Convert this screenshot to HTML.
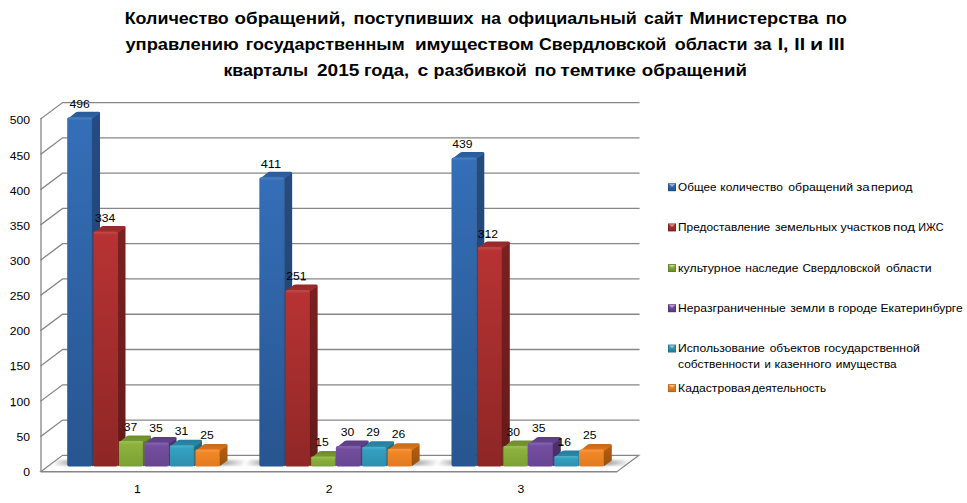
<!DOCTYPE html>
<html lang="ru"><head><meta charset="utf-8"><title>Chart</title>
<style>html,body{margin:0;padding:0;background:#fff;}body{width:967px;height:503px;overflow:hidden;font-family:"Liberation Sans",sans-serif;}svg{display:block;}text{font-family:"Liberation Sans",sans-serif;fill:#000;}.t{font-weight:bold;font-size:17.3px;}.ax{font-size:10.7px;}.dl{font-size:10.7px;}.lg{font-size:11.8px;}</style></head><body>
<svg width="967" height="503" viewBox="0 0 967 503">
<defs>
<linearGradient id="fb" x1="0" y1="0" x2="0" y2="1"><stop offset="0" stop-color="#356fb8"/><stop offset="1" stop-color="#27558f"/></linearGradient>
<linearGradient id="sb" x1="0" y1="0" x2="0" y2="1"><stop offset="0" stop-color="#254b80"/><stop offset="1" stop-color="#1f416f"/></linearGradient>
<linearGradient id="tb" x1="0" y1="0" x2="0" y2="1"><stop offset="0" stop-color="#2a5a98"/><stop offset="1" stop-color="#2f64a8"/></linearGradient>
<linearGradient id="mb" x1="0" y1="0" x2="1" y2="1"><stop offset="0" stop-color="#4a82c8"/><stop offset="1" stop-color="#27558f"/></linearGradient>
<linearGradient id="fr" x1="0" y1="0" x2="0" y2="1"><stop offset="0" stop-color="#b83333"/><stop offset="1" stop-color="#8e2626"/></linearGradient>
<linearGradient id="sr" x1="0" y1="0" x2="0" y2="1"><stop offset="0" stop-color="#7a2020"/><stop offset="1" stop-color="#651a1a"/></linearGradient>
<linearGradient id="tr" x1="0" y1="0" x2="0" y2="1"><stop offset="0" stop-color="#962828"/><stop offset="1" stop-color="#a52c2c"/></linearGradient>
<linearGradient id="mr" x1="0" y1="0" x2="1" y2="1"><stop offset="0" stop-color="#cc4a4a"/><stop offset="1" stop-color="#8e2626"/></linearGradient>
<linearGradient id="fg" x1="0" y1="0" x2="0" y2="1"><stop offset="0" stop-color="#8fb53f"/><stop offset="1" stop-color="#6e8f2c"/></linearGradient>
<linearGradient id="sg" x1="0" y1="0" x2="0" y2="1"><stop offset="0" stop-color="#5f7c26"/><stop offset="1" stop-color="#4f6820"/></linearGradient>
<linearGradient id="tg" x1="0" y1="0" x2="0" y2="1"><stop offset="0" stop-color="#6d8c2d"/><stop offset="1" stop-color="#7a9c33"/></linearGradient>
<linearGradient id="mg" x1="0" y1="0" x2="1" y2="1"><stop offset="0" stop-color="#a6c85a"/><stop offset="1" stop-color="#6e8f2c"/></linearGradient>
<linearGradient id="fp" x1="0" y1="0" x2="0" y2="1"><stop offset="0" stop-color="#7650a3"/><stop offset="1" stop-color="#5b3c80"/></linearGradient>
<linearGradient id="sp" x1="0" y1="0" x2="0" y2="1"><stop offset="0" stop-color="#4e3370"/><stop offset="1" stop-color="#422b5f"/></linearGradient>
<linearGradient id="tp" x1="0" y1="0" x2="0" y2="1"><stop offset="0" stop-color="#5b3d82"/><stop offset="1" stop-color="#664590"/></linearGradient>
<linearGradient id="mp" x1="0" y1="0" x2="1" y2="1"><stop offset="0" stop-color="#8c68b8"/><stop offset="1" stop-color="#5b3c80"/></linearGradient>
<linearGradient id="fa" x1="0" y1="0" x2="0" y2="1"><stop offset="0" stop-color="#36a3c4"/><stop offset="1" stop-color="#267f9b"/></linearGradient>
<linearGradient id="sa" x1="0" y1="0" x2="0" y2="1"><stop offset="0" stop-color="#216f88"/><stop offset="1" stop-color="#1b5d73"/></linearGradient>
<linearGradient id="ta" x1="0" y1="0" x2="0" y2="1"><stop offset="0" stop-color="#257d99"/><stop offset="1" stop-color="#2a8cab"/></linearGradient>
<linearGradient id="ma" x1="0" y1="0" x2="1" y2="1"><stop offset="0" stop-color="#55b9d6"/><stop offset="1" stop-color="#267f9b"/></linearGradient>
<linearGradient id="fo" x1="0" y1="0" x2="0" y2="1"><stop offset="0" stop-color="#f58a28"/><stop offset="1" stop-color="#d06f17"/></linearGradient>
<linearGradient id="so" x1="0" y1="0" x2="0" y2="1"><stop offset="0" stop-color="#b55f12"/><stop offset="1" stop-color="#9a510f"/></linearGradient>
<linearGradient id="to" x1="0" y1="0" x2="0" y2="1"><stop offset="0" stop-color="#c96b18"/><stop offset="1" stop-color="#dd771c"/></linearGradient>
<linearGradient id="mo" x1="0" y1="0" x2="1" y2="1"><stop offset="0" stop-color="#ffa24a"/><stop offset="1" stop-color="#d06f17"/></linearGradient>
<linearGradient id="shl" x1="1" y1="0" x2="0" y2="0"><stop offset="0" stop-color="#000" stop-opacity="0.4"/><stop offset="1" stop-color="#000" stop-opacity="0"/></linearGradient>
<linearGradient id="shr" x1="0" y1="0" x2="1" y2="0"><stop offset="0" stop-color="#000" stop-opacity="0.4"/><stop offset="1" stop-color="#000" stop-opacity="0"/></linearGradient>
<linearGradient id="hi" x1="0" y1="0" x2="0" y2="1"><stop offset="0" stop-color="#fff" stop-opacity="0.13"/><stop offset="1" stop-color="#fff" stop-opacity="0"/></linearGradient>
<filter id="blur" x="-20%" y="-100%" width="140%" height="300%"><feGaussianBlur stdDeviation="0.9"/></filter>
</defs>
<rect x="0" y="0" width="967" height="503" fill="#ffffff"/>
<g fill="none" stroke="#868686" stroke-width="1.3" stroke-linecap="square">
<path d="M41.00 436.22 L62.60 420.07 L638.90 420.07"/>
<path d="M41.00 400.94 L62.60 384.79 L638.90 384.79"/>
<path d="M41.00 365.66 L62.60 349.51 L638.90 349.51"/>
<path d="M41.00 330.38 L62.60 314.23 L638.90 314.23"/>
<path d="M41.00 295.10 L62.60 278.95 L638.90 278.95"/>
<path d="M41.00 259.82 L62.60 243.67 L638.90 243.67"/>
<path d="M41.00 224.54 L62.60 208.39 L638.90 208.39"/>
<path d="M41.00 189.26 L62.60 173.11 L638.90 173.11"/>
<path d="M41.00 153.98 L62.60 137.83 L638.90 137.83"/>
<path d="M41.00 118.70 L62.60 102.55 L638.90 102.55"/>
<path d="M41.00 118.70 L41.00 471.50"/>
</g>
<path d="M41.00 471.50 L62.60 455.35 L638.90 455.35 L617.30 471.50 Z" fill="#ffffff" stroke="#868686" stroke-width="1.2" stroke-linejoin="miter"/>
<path d="M41.00 471.70 L617.30 471.70" stroke="#868686" stroke-width="1.6" fill="none"/>
<path d="M51.50 465.60 L69.50 465.60 L75.50 460.10 L57.50 460.10 Z" fill="url(#shl)" filter="url(#blur)"/>
<path d="M219.50 465.60 L241.50 465.60 L247.50 460.10 L225.50 460.10 Z" fill="url(#shr)" filter="url(#blur)"/>
<path d="M243.65 465.60 L261.65 465.60 L267.65 460.10 L249.65 460.10 Z" fill="url(#shl)" filter="url(#blur)"/>
<path d="M411.65 465.60 L433.65 465.60 L439.65 460.10 L417.65 460.10 Z" fill="url(#shr)" filter="url(#blur)"/>
<path d="M435.80 465.60 L453.80 465.60 L459.80 460.10 L441.80 460.10 Z" fill="url(#shl)" filter="url(#blur)"/>
<path d="M603.80 465.60 L625.80 465.60 L631.80 460.10 L609.80 460.10 Z" fill="url(#shr)" filter="url(#blur)"/>
<path d="M92.00 118.02 L100.00 112.52 L100.00 460.60 L92.00 466.60 Z" fill="url(#sb)"/>
<path d="M67.30 119.12 L76.00 112.22 Q76.70 111.72 78.10 111.72 L98.50 111.72 Q100.00 111.72 100.00 112.92 L92.50 118.62 Z" fill="url(#tb)"/>
<rect x="67.20" y="117.22" width="25.10" height="349.38" rx="2" ry="2" fill="url(#fb)"/>
<rect x="68.30" y="117.42" width="23.50" height="3.2" rx="1.5" ry="1.5" fill="url(#hi)"/>
<rect x="91.70" y="118.82" width="0.8" height="346.38" fill="#000" opacity="0.16"/>
<path d="M117.50 232.33 L125.50 226.83 L125.50 460.60 L117.50 466.60 Z" fill="url(#sr)"/>
<path d="M92.80 233.43 L101.50 226.53 Q102.20 226.03 103.60 226.03 L124.00 226.03 Q125.50 226.03 125.50 227.23 L118.00 232.93 Z" fill="url(#tr)"/>
<rect x="92.70" y="231.53" width="25.10" height="235.07" rx="2" ry="2" fill="url(#fr)"/>
<rect x="93.80" y="231.73" width="23.50" height="3.2" rx="1.5" ry="1.5" fill="url(#hi)"/>
<rect x="117.20" y="233.13" width="0.8" height="232.07" fill="#000" opacity="0.16"/>
<rect x="92.60" y="229.53" width="0.9" height="236.07" fill="#254b80"/>
<path d="M143.00 441.89 L151.00 436.39 L151.00 460.60 L143.00 466.60 Z" fill="url(#sg)"/>
<path d="M118.30 442.99 L127.00 436.09 Q127.70 435.59 129.10 435.59 L149.50 435.59 Q151.00 435.59 151.00 436.79 L143.50 442.49 Z" fill="url(#tg)"/>
<linearGradient id="fg0" x1="0" y1="0" x2="0" y2="1"><stop offset="0" stop-color="#8fb53f"/><stop offset="1" stop-color="#7ca034"/></linearGradient>
<rect x="118.20" y="441.09" width="25.10" height="25.51" rx="2" ry="2" fill="url(#fg0)"/>
<rect x="119.30" y="441.29" width="23.50" height="3.2" rx="1.5" ry="1.5" fill="url(#hi)"/>
<rect x="142.70" y="442.69" width="0.8" height="22.51" fill="#000" opacity="0.16"/>
<rect x="118.10" y="439.09" width="0.9" height="26.51" fill="#7a2020"/>
<path d="M168.50 443.30 L176.50 437.80 L176.50 460.60 L168.50 466.60 Z" fill="url(#sp)"/>
<path d="M143.80 444.40 L152.50 437.50 Q153.20 437.00 154.60 437.00 L175.00 437.00 Q176.50 437.00 176.50 438.20 L169.00 443.90 Z" fill="url(#tp)"/>
<linearGradient id="fp0" x1="0" y1="0" x2="0" y2="1"><stop offset="0" stop-color="#7650a3"/><stop offset="1" stop-color="#67458f"/></linearGradient>
<rect x="143.70" y="442.50" width="25.10" height="24.10" rx="2" ry="2" fill="url(#fp0)"/>
<rect x="144.80" y="442.70" width="23.50" height="3.2" rx="1.5" ry="1.5" fill="url(#hi)"/>
<rect x="168.20" y="444.10" width="0.8" height="21.10" fill="#000" opacity="0.16"/>
<rect x="143.60" y="440.50" width="0.9" height="25.10" fill="#5f7c26"/>
<path d="M194.00 446.13 L202.00 440.63 L202.00 460.60 L194.00 466.60 Z" fill="url(#sa)"/>
<path d="M169.30 447.23 L178.00 440.33 Q178.70 439.83 180.10 439.83 L200.50 439.83 Q202.00 439.83 202.00 441.03 L194.50 446.73 Z" fill="url(#ta)"/>
<linearGradient id="fa0" x1="0" y1="0" x2="0" y2="1"><stop offset="0" stop-color="#36a3c4"/><stop offset="1" stop-color="#2d8fad"/></linearGradient>
<rect x="169.20" y="445.33" width="25.10" height="21.27" rx="2" ry="2" fill="url(#fa0)"/>
<rect x="170.30" y="445.53" width="23.50" height="3.2" rx="1.5" ry="1.5" fill="url(#hi)"/>
<rect x="193.70" y="446.93" width="0.8" height="18.27" fill="#000" opacity="0.16"/>
<rect x="169.10" y="443.33" width="0.9" height="22.27" fill="#4e3370"/>
<path d="M219.50 450.36 L227.50 444.86 L227.50 460.60 L219.50 466.60 Z" fill="url(#so)"/>
<path d="M194.80 451.46 L203.50 444.56 Q204.20 444.06 205.60 444.06 L226.00 444.06 Q227.50 444.06 227.50 445.26 L220.00 450.96 Z" fill="url(#to)"/>
<linearGradient id="fo0" x1="0" y1="0" x2="0" y2="1"><stop offset="0" stop-color="#f58a28"/><stop offset="1" stop-color="#e17b1f"/></linearGradient>
<rect x="194.70" y="449.56" width="25.10" height="17.04" rx="2" ry="2" fill="url(#fo0)"/>
<rect x="195.80" y="449.76" width="23.50" height="3.2" rx="1.5" ry="1.5" fill="url(#hi)"/>
<rect x="219.20" y="451.16" width="0.8" height="14.04" fill="#000" opacity="0.16"/>
<rect x="194.60" y="447.56" width="0.9" height="18.04" fill="#216f88"/>
<path d="M284.15 178.00 L292.15 172.50 L292.15 460.60 L284.15 466.60 Z" fill="url(#sb)"/>
<path d="M259.45 179.10 L268.15 172.20 Q268.85 171.70 270.25 171.70 L290.65 171.70 Q292.15 171.70 292.15 172.90 L284.65 178.60 Z" fill="url(#tb)"/>
<rect x="259.35" y="177.20" width="25.10" height="289.40" rx="2" ry="2" fill="url(#fb)"/>
<rect x="260.45" y="177.40" width="23.50" height="3.2" rx="1.5" ry="1.5" fill="url(#hi)"/>
<rect x="283.85" y="178.80" width="0.8" height="286.40" fill="#000" opacity="0.16"/>
<path d="M309.65 290.89 L317.65 285.39 L317.65 460.60 L309.65 466.60 Z" fill="url(#sr)"/>
<path d="M284.95 291.99 L293.65 285.09 Q294.35 284.59 295.75 284.59 L316.15 284.59 Q317.65 284.59 317.65 285.79 L310.15 291.49 Z" fill="url(#tr)"/>
<linearGradient id="fr1" x1="0" y1="0" x2="0" y2="1"><stop offset="0" stop-color="#b83333"/><stop offset="1" stop-color="#902727"/></linearGradient>
<rect x="284.85" y="290.09" width="25.10" height="176.51" rx="2" ry="2" fill="url(#fr1)"/>
<rect x="285.95" y="290.29" width="23.50" height="3.2" rx="1.5" ry="1.5" fill="url(#hi)"/>
<rect x="309.35" y="291.69" width="0.8" height="173.51" fill="#000" opacity="0.16"/>
<rect x="284.75" y="288.09" width="0.9" height="177.51" fill="#254b80"/>
<path d="M335.15 457.42 L343.15 451.92 L343.15 460.60 L335.15 466.60 Z" fill="url(#sg)"/>
<path d="M310.45 458.52 L319.15 451.62 Q319.85 451.12 321.25 451.12 L341.65 451.12 Q343.15 451.12 343.15 452.32 L335.65 458.02 Z" fill="url(#tg)"/>
<linearGradient id="fg1" x1="0" y1="0" x2="0" y2="1"><stop offset="0" stop-color="#8fb53f"/><stop offset="1" stop-color="#7ea135"/></linearGradient>
<rect x="310.35" y="456.62" width="25.10" height="9.98" rx="2" ry="2" fill="url(#fg1)"/>
<rect x="311.45" y="456.82" width="23.50" height="3.2" rx="1.5" ry="1.5" fill="url(#hi)"/>
<rect x="334.85" y="458.22" width="0.8" height="6.98" fill="#000" opacity="0.16"/>
<rect x="310.25" y="454.62" width="0.9" height="10.98" fill="#7a2020"/>
<path d="M360.65 446.83 L368.65 441.33 L368.65 460.60 L360.65 466.60 Z" fill="url(#sp)"/>
<path d="M335.95 447.93 L344.65 441.03 Q345.35 440.53 346.75 440.53 L367.15 440.53 Q368.65 440.53 368.65 441.73 L361.15 447.43 Z" fill="url(#tp)"/>
<linearGradient id="fp1" x1="0" y1="0" x2="0" y2="1"><stop offset="0" stop-color="#7650a3"/><stop offset="1" stop-color="#674590"/></linearGradient>
<rect x="335.85" y="446.03" width="25.10" height="20.57" rx="2" ry="2" fill="url(#fp1)"/>
<rect x="336.95" y="446.23" width="23.50" height="3.2" rx="1.5" ry="1.5" fill="url(#hi)"/>
<rect x="360.35" y="447.63" width="0.8" height="17.57" fill="#000" opacity="0.16"/>
<path d="M386.15 447.54 L394.15 442.04 L394.15 460.60 L386.15 466.60 Z" fill="url(#sa)"/>
<path d="M361.45 448.64 L370.15 441.74 Q370.85 441.24 372.25 441.24 L392.65 441.24 Q394.15 441.24 394.15 442.44 L386.65 448.14 Z" fill="url(#ta)"/>
<linearGradient id="fa1" x1="0" y1="0" x2="0" y2="1"><stop offset="0" stop-color="#36a3c4"/><stop offset="1" stop-color="#2d8fad"/></linearGradient>
<rect x="361.35" y="446.74" width="25.10" height="19.86" rx="2" ry="2" fill="url(#fa1)"/>
<rect x="362.45" y="446.94" width="23.50" height="3.2" rx="1.5" ry="1.5" fill="url(#hi)"/>
<rect x="385.85" y="448.34" width="0.8" height="16.86" fill="#000" opacity="0.16"/>
<rect x="361.25" y="444.74" width="0.9" height="20.86" fill="#4e3370"/>
<path d="M411.65 449.65 L419.65 444.15 L419.65 460.60 L411.65 466.60 Z" fill="url(#so)"/>
<path d="M386.95 450.75 L395.65 443.85 Q396.35 443.35 397.75 443.35 L418.15 443.35 Q419.65 443.35 419.65 444.55 L412.15 450.25 Z" fill="url(#to)"/>
<linearGradient id="fo1" x1="0" y1="0" x2="0" y2="1"><stop offset="0" stop-color="#f58a28"/><stop offset="1" stop-color="#e17b1f"/></linearGradient>
<rect x="386.85" y="448.85" width="25.10" height="17.75" rx="2" ry="2" fill="url(#fo1)"/>
<rect x="387.95" y="449.05" width="23.50" height="3.2" rx="1.5" ry="1.5" fill="url(#hi)"/>
<rect x="411.35" y="450.45" width="0.8" height="14.75" fill="#000" opacity="0.16"/>
<rect x="386.75" y="446.85" width="0.9" height="18.75" fill="#216f88"/>
<path d="M476.30 158.24 L484.30 152.74 L484.30 460.60 L476.30 466.60 Z" fill="url(#sb)"/>
<path d="M451.60 159.34 L460.30 152.44 Q461.00 151.94 462.40 151.94 L482.80 151.94 Q484.30 151.94 484.30 153.14 L476.80 158.84 Z" fill="url(#tb)"/>
<rect x="451.50" y="157.44" width="25.10" height="309.16" rx="2" ry="2" fill="url(#fb)"/>
<rect x="452.60" y="157.64" width="23.50" height="3.2" rx="1.5" ry="1.5" fill="url(#hi)"/>
<rect x="476.00" y="159.04" width="0.8" height="306.16" fill="#000" opacity="0.16"/>
<path d="M501.80 247.85 L509.80 242.35 L509.80 460.60 L501.80 466.60 Z" fill="url(#sr)"/>
<path d="M477.10 248.95 L485.80 242.05 Q486.50 241.55 487.90 241.55 L508.30 241.55 Q509.80 241.55 509.80 242.75 L502.30 248.45 Z" fill="url(#tr)"/>
<rect x="477.00" y="247.05" width="25.10" height="219.55" rx="2" ry="2" fill="url(#fr)"/>
<rect x="478.10" y="247.25" width="23.50" height="3.2" rx="1.5" ry="1.5" fill="url(#hi)"/>
<rect x="501.50" y="248.65" width="0.8" height="216.55" fill="#000" opacity="0.16"/>
<rect x="476.90" y="245.05" width="0.9" height="220.55" fill="#254b80"/>
<path d="M527.30 446.83 L535.30 441.33 L535.30 460.60 L527.30 466.60 Z" fill="url(#sg)"/>
<path d="M502.60 447.93 L511.30 441.03 Q512.00 440.53 513.40 440.53 L533.80 440.53 Q535.30 440.53 535.30 441.73 L527.80 447.43 Z" fill="url(#tg)"/>
<linearGradient id="fg2" x1="0" y1="0" x2="0" y2="1"><stop offset="0" stop-color="#8fb53f"/><stop offset="1" stop-color="#7da035"/></linearGradient>
<rect x="502.50" y="446.03" width="25.10" height="20.57" rx="2" ry="2" fill="url(#fg2)"/>
<rect x="503.60" y="446.23" width="23.50" height="3.2" rx="1.5" ry="1.5" fill="url(#hi)"/>
<rect x="527.00" y="447.63" width="0.8" height="17.57" fill="#000" opacity="0.16"/>
<rect x="502.40" y="444.03" width="0.9" height="21.57" fill="#7a2020"/>
<path d="M552.80 443.30 L560.80 437.80 L560.80 460.60 L552.80 466.60 Z" fill="url(#sp)"/>
<path d="M528.10 444.40 L536.80 437.50 Q537.50 437.00 538.90 437.00 L559.30 437.00 Q560.80 437.00 560.80 438.20 L553.30 443.90 Z" fill="url(#tp)"/>
<linearGradient id="fp2" x1="0" y1="0" x2="0" y2="1"><stop offset="0" stop-color="#7650a3"/><stop offset="1" stop-color="#67458f"/></linearGradient>
<rect x="528.00" y="442.50" width="25.10" height="24.10" rx="2" ry="2" fill="url(#fp2)"/>
<rect x="529.10" y="442.70" width="23.50" height="3.2" rx="1.5" ry="1.5" fill="url(#hi)"/>
<rect x="552.50" y="444.10" width="0.8" height="21.10" fill="#000" opacity="0.16"/>
<path d="M578.30 456.71 L586.30 451.21 L586.30 460.60 L578.30 466.60 Z" fill="url(#sa)"/>
<path d="M553.60 457.81 L562.30 450.91 Q563.00 450.41 564.40 450.41 L584.80 450.41 Q586.30 450.41 586.30 451.61 L578.80 457.31 Z" fill="url(#ta)"/>
<linearGradient id="fa2" x1="0" y1="0" x2="0" y2="1"><stop offset="0" stop-color="#36a3c4"/><stop offset="1" stop-color="#2e90ae"/></linearGradient>
<rect x="553.50" y="455.91" width="25.10" height="10.69" rx="2" ry="2" fill="url(#fa2)"/>
<rect x="554.60" y="456.11" width="23.50" height="3.2" rx="1.5" ry="1.5" fill="url(#hi)"/>
<rect x="578.00" y="457.51" width="0.8" height="7.69" fill="#000" opacity="0.16"/>
<rect x="553.40" y="453.91" width="0.9" height="11.69" fill="#4e3370"/>
<path d="M603.80 450.36 L611.80 444.86 L611.80 460.60 L603.80 466.60 Z" fill="url(#so)"/>
<path d="M579.10 451.46 L587.80 444.56 Q588.50 444.06 589.90 444.06 L610.30 444.06 Q611.80 444.06 611.80 445.26 L604.30 450.96 Z" fill="url(#to)"/>
<linearGradient id="fo2" x1="0" y1="0" x2="0" y2="1"><stop offset="0" stop-color="#f58a28"/><stop offset="1" stop-color="#e17b1f"/></linearGradient>
<rect x="579.00" y="449.56" width="25.10" height="17.04" rx="2" ry="2" fill="url(#fo2)"/>
<rect x="580.10" y="449.76" width="23.50" height="3.2" rx="1.5" ry="1.5" fill="url(#hi)"/>
<rect x="603.50" y="451.16" width="0.8" height="14.04" fill="#000" opacity="0.16"/>
<text class="dl" x="69.4" y="108.4" textLength="20.3" lengthAdjust="spacingAndGlyphs">496</text>
<text class="dl" x="94.9" y="222.1" textLength="20.3" lengthAdjust="spacingAndGlyphs">334</text>
<text class="dl" x="123.7" y="430.7" textLength="13.5" lengthAdjust="spacingAndGlyphs">37</text>
<text class="dl" x="149.2" y="432.1" textLength="13.5" lengthAdjust="spacingAndGlyphs">35</text>
<text class="dl" x="174.7" y="434.9" textLength="13.5" lengthAdjust="spacingAndGlyphs">31</text>
<rect x="182.75" y="433.98" width="4.7" height="0.95" fill="#000"/>
<text class="dl" x="200.2" y="439.1" textLength="13.5" lengthAdjust="spacingAndGlyphs">25</text>
<text class="dl" x="260.8" y="168.1" textLength="20.3" lengthAdjust="spacingAndGlyphs">411</text>
<rect x="268.82" y="167.10" width="4.7" height="0.95" fill="#000"/>
<rect x="275.58" y="167.10" width="4.7" height="0.95" fill="#000"/>
<text class="dl" x="286.3" y="280.4" textLength="20.3" lengthAdjust="spacingAndGlyphs">251</text>
<rect x="301.08" y="279.47" width="4.7" height="0.95" fill="#000"/>
<text class="dl" x="315.2" y="446.2" textLength="13.5" lengthAdjust="spacingAndGlyphs">15</text>
<rect x="316.44" y="445.22" width="4.7" height="0.95" fill="#000"/>
<text class="dl" x="340.7" y="435.6" textLength="13.5" lengthAdjust="spacingAndGlyphs">30</text>
<text class="dl" x="366.2" y="436.3" textLength="13.5" lengthAdjust="spacingAndGlyphs">29</text>
<text class="dl" x="391.7" y="438.4" textLength="13.5" lengthAdjust="spacingAndGlyphs">26</text>
<text class="dl" x="452.3" y="148.4" textLength="20.3" lengthAdjust="spacingAndGlyphs">439</text>
<text class="dl" x="477.8" y="237.6" textLength="20.3" lengthAdjust="spacingAndGlyphs">312</text>
<rect x="485.77" y="236.63" width="4.7" height="0.95" fill="#000"/>
<text class="dl" x="506.6" y="435.6" textLength="13.5" lengthAdjust="spacingAndGlyphs">30</text>
<text class="dl" x="532.1" y="432.1" textLength="13.5" lengthAdjust="spacingAndGlyphs">35</text>
<text class="dl" x="557.6" y="445.5" textLength="13.5" lengthAdjust="spacingAndGlyphs">16</text>
<rect x="558.89" y="444.51" width="4.7" height="0.95" fill="#000"/>
<text class="dl" x="583.1" y="439.1" textLength="13.5" lengthAdjust="spacingAndGlyphs">25</text>
<text class="ax" x="23.2" y="476.3" textLength="6.8" lengthAdjust="spacingAndGlyphs">0</text>
<text class="ax" x="16.5" y="441.3" textLength="13.5" lengthAdjust="spacingAndGlyphs">50</text>
<text class="ax" x="9.7" y="406.3" textLength="20.3" lengthAdjust="spacingAndGlyphs">100</text>
<rect x="10.97" y="405.35" width="4.7" height="0.95" fill="#000"/>
<text class="ax" x="9.7" y="370.3" textLength="20.3" lengthAdjust="spacingAndGlyphs">150</text>
<rect x="10.97" y="369.35" width="4.7" height="0.95" fill="#000"/>
<text class="ax" x="9.7" y="335.3" textLength="20.3" lengthAdjust="spacingAndGlyphs">200</text>
<text class="ax" x="9.7" y="300.3" textLength="20.3" lengthAdjust="spacingAndGlyphs">250</text>
<text class="ax" x="9.7" y="265.3" textLength="20.3" lengthAdjust="spacingAndGlyphs">300</text>
<text class="ax" x="9.7" y="230.3" textLength="20.3" lengthAdjust="spacingAndGlyphs">350</text>
<text class="ax" x="9.7" y="195.3" textLength="20.3" lengthAdjust="spacingAndGlyphs">400</text>
<text class="ax" x="9.7" y="160.3" textLength="20.3" lengthAdjust="spacingAndGlyphs">450</text>
<text class="ax" x="9.7" y="124.3" textLength="20.3" lengthAdjust="spacingAndGlyphs">500</text>
<text class="ax" x="134.0" y="493.1" textLength="6.8" lengthAdjust="spacingAndGlyphs">1</text>
<rect x="135.25" y="492.15" width="4.7" height="0.95" fill="#000"/>
<text class="ax" x="325.7" y="493.1" textLength="6.8" lengthAdjust="spacingAndGlyphs">2</text>
<text class="ax" x="517.4" y="493.1" textLength="6.8" lengthAdjust="spacingAndGlyphs">3</text>
<text class="t" x="124.7" y="23.8" textLength="104.1" lengthAdjust="spacingAndGlyphs">Количество</text>
<text class="t" x="234.6" y="23.8" textLength="110.8" lengthAdjust="spacingAndGlyphs">обращений,</text>
<text class="t" x="353.6" y="23.8" textLength="120.0" lengthAdjust="spacingAndGlyphs">поступивших</text>
<text class="t" x="480.7" y="23.8" textLength="20.2" lengthAdjust="spacingAndGlyphs">на</text>
<text class="t" x="507.7" y="23.8" textLength="129.1" lengthAdjust="spacingAndGlyphs">официальный</text>
<text class="t" x="643.9" y="23.8" textLength="39.4" lengthAdjust="spacingAndGlyphs">сайт</text>
<text class="t" x="689.4" y="23.8" textLength="128.9" lengthAdjust="spacingAndGlyphs">Министерства</text>
<text class="t" x="825.8" y="23.8" textLength="21.0" lengthAdjust="spacingAndGlyphs">по</text>
<text class="t" x="125.4" y="49.5" textLength="113.3" lengthAdjust="spacingAndGlyphs">управлению</text>
<text class="t" x="245.8" y="49.5" textLength="159.0" lengthAdjust="spacingAndGlyphs">государственным</text>
<text class="t" x="414.9" y="49.5" textLength="118.9" lengthAdjust="spacingAndGlyphs">имуществом</text>
<text class="t" x="539.0" y="49.5" textLength="127.5" lengthAdjust="spacingAndGlyphs">Свердловской</text>
<text class="t" x="674.8" y="49.5" textLength="72.7" lengthAdjust="spacingAndGlyphs">области</text>
<text class="t" x="753.4" y="49.5" textLength="18.2" lengthAdjust="spacingAndGlyphs">за</text>
<text class="t" x="777.7" y="49.5" textLength="10.8" lengthAdjust="spacingAndGlyphs">I,</text>
<text class="t" x="794.3" y="49.5" textLength="10.8" lengthAdjust="spacingAndGlyphs">II</text>
<text class="t" x="810.0" y="49.5" textLength="13.2" lengthAdjust="spacingAndGlyphs">и</text>
<text class="t" x="828.3" y="49.5" textLength="16.5" lengthAdjust="spacingAndGlyphs">III</text>
<text class="t" x="223.4" y="75.9" textLength="84.8" lengthAdjust="spacingAndGlyphs">кварталы</text>
<text class="t" x="317.0" y="75.9" textLength="42.4" lengthAdjust="spacingAndGlyphs">2015</text>
<text class="t" x="364.0" y="75.9" textLength="45.1" lengthAdjust="spacingAndGlyphs">года,</text>
<text class="t" x="417.4" y="75.9" textLength="10.8" lengthAdjust="spacingAndGlyphs">с</text>
<text class="t" x="433.5" y="75.9" textLength="93.2" lengthAdjust="spacingAndGlyphs">разбивкой</text>
<text class="t" x="534.4" y="75.9" textLength="21.8" lengthAdjust="spacingAndGlyphs">по</text>
<text class="t" x="560.2" y="75.9" textLength="75.9" lengthAdjust="spacingAndGlyphs">темтике</text>
<text class="t" x="641.8" y="75.9" textLength="105.2" lengthAdjust="spacingAndGlyphs">обращений</text>
<rect x="668.0" y="183.3" width="8.0" height="7.9" fill="#254b80"/>
<rect x="668.7" y="184.0" width="6.6" height="6.3" fill="url(#fb)"/>
<path d="M669.00 184.10 L675.00 184.10 L672.00 186.90 Z" fill="#ffffff" opacity="0.45"/>
<text class="lg" x="678.1" y="190.9" textLength="38.4" lengthAdjust="spacingAndGlyphs">Общее</text>
<text class="lg" x="720.3" y="190.9" textLength="62.5" lengthAdjust="spacingAndGlyphs">количество</text>
<text class="lg" x="788.3" y="190.9" textLength="64.7" lengthAdjust="spacingAndGlyphs">обращений</text>
<text class="lg" x="856.3" y="190.9" textLength="13.4" lengthAdjust="spacingAndGlyphs">за</text>
<text class="lg" x="871.1" y="190.9" textLength="41.5" lengthAdjust="spacingAndGlyphs">период</text>
<rect x="668.0" y="223.5" width="8.0" height="7.9" fill="#7a2020"/>
<rect x="668.7" y="224.2" width="6.6" height="6.3" fill="url(#fr)"/>
<path d="M669.00 224.30 L675.00 224.30 L672.00 227.10 Z" fill="#ffffff" opacity="0.45"/>
<text class="lg" x="678.1" y="231.1" textLength="92.1" lengthAdjust="spacingAndGlyphs">Предоставление</text>
<text class="lg" x="775.1" y="231.1" textLength="61.9" lengthAdjust="spacingAndGlyphs">земельных</text>
<text class="lg" x="840.5" y="231.1" textLength="50.2" lengthAdjust="spacingAndGlyphs">участков</text>
<text class="lg" x="893.0" y="231.1" textLength="22.0" lengthAdjust="spacingAndGlyphs">под</text>
<text class="lg" x="918.3" y="231.1" textLength="25.3" lengthAdjust="spacingAndGlyphs">ИЖС</text>
<rect x="668.0" y="264.1" width="8.0" height="7.9" fill="#5f7c26"/>
<rect x="668.7" y="264.8" width="6.6" height="6.3" fill="url(#fg)"/>
<path d="M669.00 264.90 L675.00 264.90 L672.00 267.70 Z" fill="#ffffff" opacity="0.45"/>
<text class="lg" x="678.1" y="271.7" textLength="63.0" lengthAdjust="spacingAndGlyphs">культурное</text>
<text class="lg" x="745.3" y="271.7" textLength="53.0" lengthAdjust="spacingAndGlyphs">наследие</text>
<text class="lg" x="802.4" y="271.7" textLength="78.0" lengthAdjust="spacingAndGlyphs">Свердловской</text>
<text class="lg" x="885.9" y="271.7" textLength="45.8" lengthAdjust="spacingAndGlyphs">области</text>
<rect x="668.0" y="304.3" width="8.0" height="7.9" fill="#4e3370"/>
<rect x="668.7" y="305.0" width="6.6" height="6.3" fill="url(#fp)"/>
<path d="M669.00 305.10 L675.00 305.10 L672.00 307.90 Z" fill="#ffffff" opacity="0.45"/>
<text class="lg" x="678.1" y="311.9" textLength="107.6" lengthAdjust="spacingAndGlyphs">Неразграниченные</text>
<text class="lg" x="790.2" y="311.9" textLength="34.9" lengthAdjust="spacingAndGlyphs">земли</text>
<text class="lg" x="828.6" y="311.9" textLength="6.0" lengthAdjust="spacingAndGlyphs">в</text>
<text class="lg" x="838.1" y="311.9" textLength="39.2" lengthAdjust="spacingAndGlyphs">городе</text>
<text class="lg" x="880.6" y="311.9" textLength="82.1" lengthAdjust="spacingAndGlyphs">Екатеринбурге</text>
<rect x="668.0" y="344.6" width="8.0" height="7.9" fill="#216f88"/>
<rect x="668.7" y="345.3" width="6.6" height="6.3" fill="url(#fa)"/>
<path d="M669.00 345.40 L675.00 345.40 L672.00 348.20 Z" fill="#ffffff" opacity="0.45"/>
<text class="lg" x="678.1" y="352.2" textLength="86.6" lengthAdjust="spacingAndGlyphs">Использование</text>
<text class="lg" x="769.7" y="352.2" textLength="50.7" lengthAdjust="spacingAndGlyphs">объектов</text>
<text class="lg" x="824.1" y="352.2" textLength="95.7" lengthAdjust="spacingAndGlyphs">государственной</text>
<text class="lg" x="678.1" y="367.9" textLength="81.8" lengthAdjust="spacingAndGlyphs">собственности</text>
<text class="lg" x="764.4" y="367.9" textLength="6.3" lengthAdjust="spacingAndGlyphs">и</text>
<text class="lg" x="774.4" y="367.9" textLength="57.1" lengthAdjust="spacingAndGlyphs">казенного</text>
<text class="lg" x="835.8" y="367.9" textLength="60.8" lengthAdjust="spacingAndGlyphs">имущества</text>
<rect x="668.0" y="384.2" width="8.0" height="7.9" fill="#b55f12"/>
<rect x="668.7" y="384.9" width="6.6" height="6.3" fill="url(#fo)"/>
<path d="M669.00 385.00 L675.00 385.00 L672.00 387.80 Z" fill="#ffffff" opacity="0.45"/>
<text class="lg" x="678.1" y="391.8" textLength="72.5" lengthAdjust="spacingAndGlyphs">Кадастровая</text>
<text class="lg" x="752.0" y="391.8" textLength="74.0" lengthAdjust="spacingAndGlyphs">деятельность</text>
</svg></body></html>
